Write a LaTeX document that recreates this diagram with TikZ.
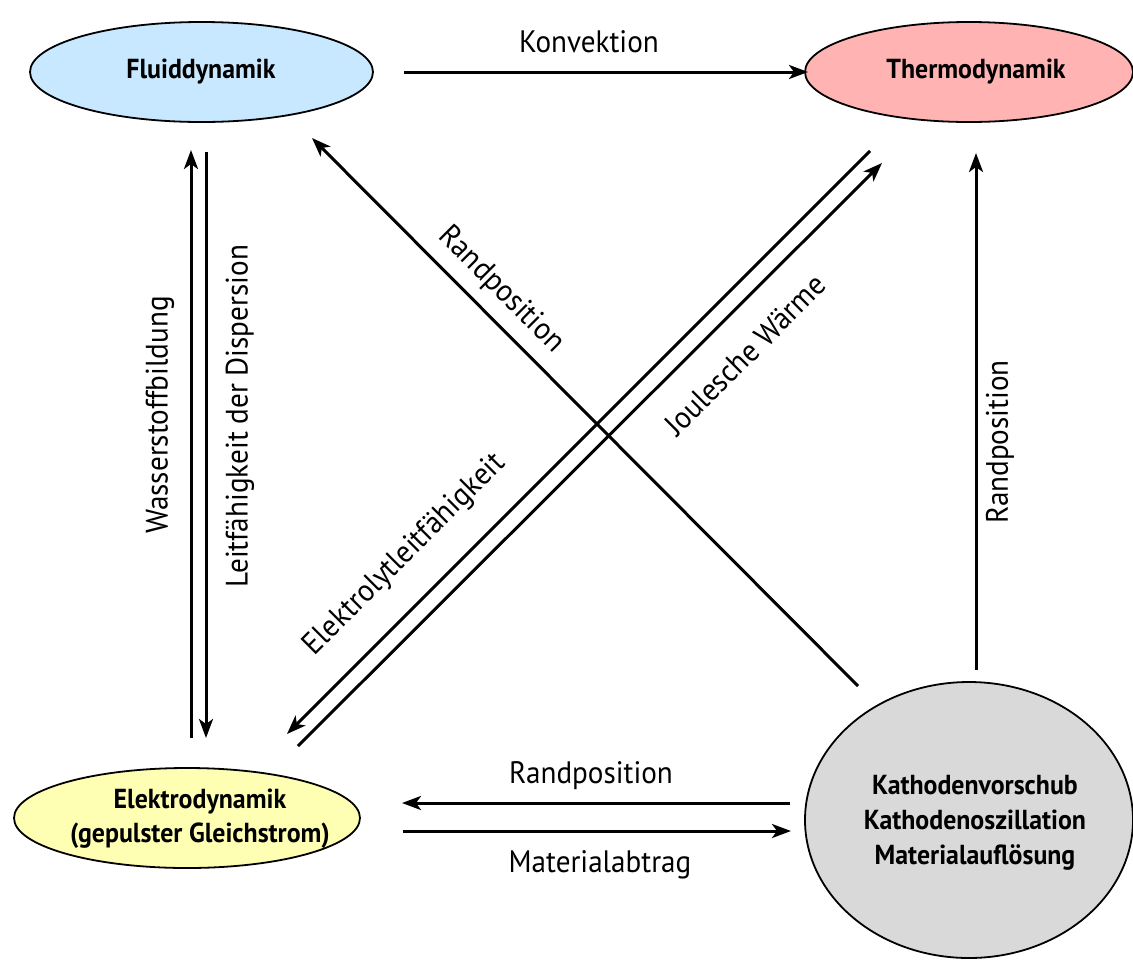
\documentclass[tikz,border=0pt]{standalone}
\usepackage{fontspec}
\setmainfont[FakeStretch=0.94]{PT Sans}
\usetikzlibrary{arrows.meta,shapes.geometric}
\definecolor{fluidc}{HTML}{C8E8FF}
\definecolor{thermoc}{HTML}{FFB3B3}
\definecolor{elektroc}{HTML}{FFFFB3}
\definecolor{kathc}{HTML}{D9D9D9}
\tikzset{
  blob/.style={ellipse,draw=black,line width=1.8pt,inner sep=0pt},
  btxt/.style={font=\fontsize{27.5}{34}\selectfont\bfseries,align=center,inner sep=0pt},
  conn/.style={line width=3pt,-{Stealth[length=19pt,width=14pt,inset=5pt]}},
  lbl/.style={font=\fontsize{31}{34}\selectfont,inner sep=0pt}
}
\begin{document}
\begin{tikzpicture}[x=1pt,y=-1pt]
\useasboundingbox (0,0) rectangle (1133,962);
\begin{scope}
\clip (0,0) rectangle (1133,962);
\node[blob,fill=fluidc,minimum width=343pt,minimum height=100pt] (fluid) at (201.5,72) {};
\node[blob,fill=thermoc,minimum width=328pt,minimum height=100pt] (thermo) at (969,72) {};
\node[blob,fill=elektroc,minimum width=346pt,minimum height=100pt] (elektro) at (187,818) {};
\node[blob,fill=kathc,minimum width=328pt,minimum height=276pt] (kath) at (969,820) {};
\end{scope}
\node[btxt] (tfluid) at (201,72) {Fluiddynamik};
\node[btxt] (tthermo) at (976,72) {Thermodynamik};
\node[btxt] (telektro) at (200,819) {Elektrodynamik\\(gepulster Gleichstrom)};
\node[btxt,font=\fontsize{27.5}{35}\selectfont\bfseries] (tkath) at (975,823) {Kathodenvorschub\\Kathodenoszillation\\Materialauflösung};
% coordinates
\coordinate (k1s) at (404,72); \coordinate (k1e) at (808,72);
\coordinate (w1s) at (191,738); \coordinate (w1e) at (191,150);
\coordinate (l1s) at (206,152); \coordinate (l1e) at (206,738);
\coordinate (e1s) at (870,151); \coordinate (e1e) at (287,734);
\coordinate (j1s) at (298,746); \coordinate (j1e) at (882,163);
\coordinate (r1s) at (858,686); \coordinate (r1e) at (312,138);
\coordinate (r2s) at (976,670); \coordinate (r2e) at (976,153);
\coordinate (r3s) at (790,803); \coordinate (r3e) at (402,803);
\coordinate (m1s) at (403,831); \coordinate (m1e) at (791,831);
\draw[conn] (k1s) -- (k1e);
\draw[conn] (w1s) -- (w1e);
\draw[conn] (l1s) -- (l1e);
\draw[conn] (e1s) -- (e1e);
\draw[conn] (j1s) -- (j1e);
\draw[conn] (r1s) -- (r1e);
\draw[conn] (r2s) -- (r2e);
\draw[conn] (r3s) -- (r3e);
\draw[conn] (m1s) -- (m1e);
% labels
\node[lbl] (lk) at (589,42) {Konvektion};
\node[lbl,rotate=90] (lw) at (160,415) {Wasserstoffbildung};
\node[lbl,rotate=90] (ll) at (240,416) {Leitfähigkeit der Dispersion};
\node[lbl,rotate=-45] (lr1) at (501,290) {Randposition};
\node[lbl,rotate=45] (lj) at (745,355) {Joulesche Wärme};
\node[lbl,rotate=45] (le) at (405,555) {Elektrolytleitfähigkeit};
\node[lbl,rotate=90] (lr2) at (1000,442) {Randposition};
\node[lbl] (lr3) at (591,776) {Randposition};
\node[lbl] (lm) at (600,865) {Materialabtrag};
\end{tikzpicture}
\end{document}
